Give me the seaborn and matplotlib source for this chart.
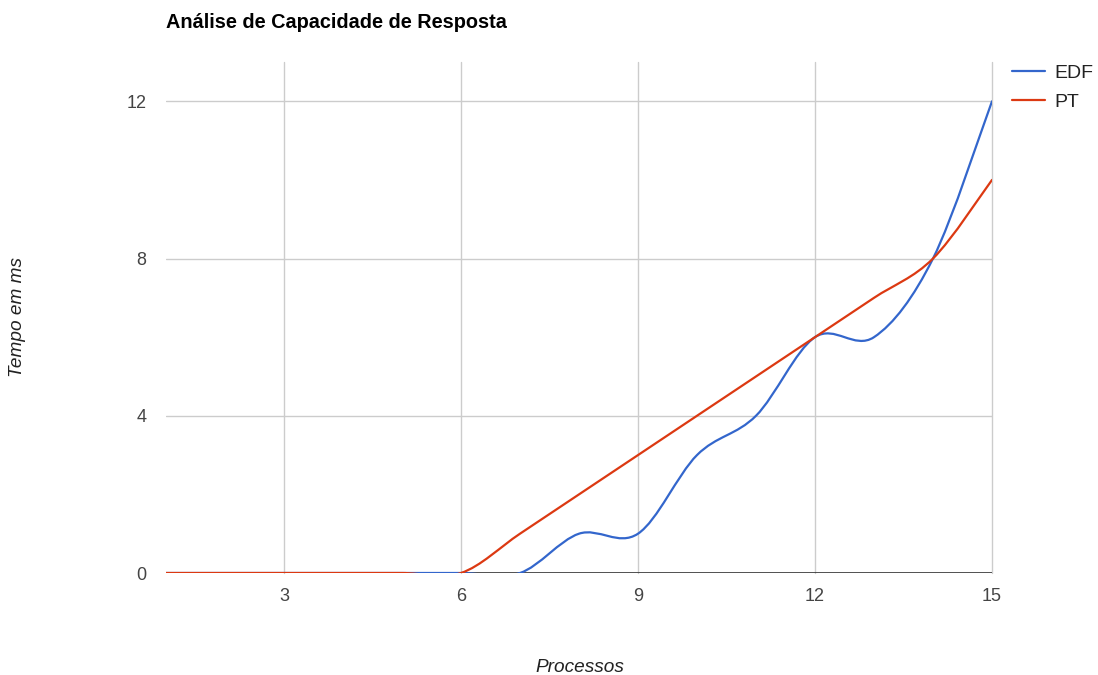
import matplotlib
matplotlib.use('Agg')
import matplotlib.pyplot as plt
import seaborn as sns
import numpy as np
from matplotlib.path import Path
from matplotlib.patches import PathPatch
from matplotlib.lines import Line2D

# data
processos = [1, 2, 3, 4, 5, 6, 7, 8, 9, 10, 11, 12, 13, 14, 15]
edf = [0, 0, 0, 0, 0, 0, 0, 1, 1, 3, 4, 6, 6, 8, 12]
pt = [0, 0, 0, 0, 0, 0, 1, 2, 3, 4, 5, 6, 7, 8, 10]
x_ticks = [3, 6, 9, 12, 15]
y_ticks = [0, 4, 8, 12]

series_names = ['EDF', 'PT']
series_colors = ['#3366cc', '#dc3912']

sns.set_theme(style='white')
plt.rcParams['font.family'] = ['Liberation Sans', 'DejaVu Sans']


def smooth_path(xs, ys):
    # Catmull-Rom style bezier through the points (like Google's curveType 'function')
    xs = np.asarray(xs, float)
    ys = np.asarray(ys, float)
    n = len(xs)
    verts = [(xs[0], ys[0])]
    codes = [Path.MOVETO]
    for i in range(n - 1):
        i0 = max(i - 1, 0)
        i3 = min(i + 2, n - 1)
        c1 = (xs[i] + (xs[i + 1] - xs[i0]) / 6, ys[i] + (ys[i + 1] - ys[i0]) / 6)
        c2 = (xs[i + 1] - (xs[i3] - xs[i]) / 6, ys[i + 1] - (ys[i3] - ys[i]) / 6)
        verts += [c1, c2, (xs[i + 1], ys[i + 1])]
        codes += [Path.CURVE4] * 3
    return Path(verts, codes)


fig = plt.figure(figsize=(10.98, 6.75), dpi=100)
ax = fig.add_axes([166 / 1098, 102 / 675, 826 / 1098, 511 / 675])

ax.set_xlim(1, 15)
ax.set_ylim(0, 13)
ax.set_xticks(x_ticks)
ax.set_yticks(y_ticks)
ax.grid(False)
for xt in x_ticks:
    ax.axvline(xt, color='#cccccc', linewidth=1, zorder=0.5, clip_on=False)
for yt in y_ticks[1:]:
    ax.axhline(yt, color='#cccccc', linewidth=1, zorder=0.5)
ax.axhline(0, color='#333333', linewidth=1.2, zorder=1)
for s in ax.spines.values():
    s.set_visible(False)
ax.tick_params(length=0, labelsize=13, labelcolor='#444444')
ax.tick_params(axis='y', pad=14)
ax.tick_params(axis='x', pad=11)
ax.set_facecolor('white')

for ys, col in zip([edf, pt], series_colors):
    patch = PathPatch(smooth_path(processos, ys), facecolor='none', edgecolor=col,
                      linewidth=1.6, zorder=3, capstyle='round')
    ax.add_patch(patch)
    patch.set_clip_path(ax.patch)

handles = [Line2D([0], [0], color=c, linewidth=1.6) for c in series_colors]
fig.legend(handles, series_names, loc='upper left',
           bbox_to_anchor=(1012 / 1098, 1 - 64 / 675), frameon=False,
           borderpad=0, borderaxespad=0, handlelength=1.7, handletextpad=0.5,
           labelspacing=0.6, fontsize=14, labelcolor='#222222')

fig.text(166 / 1098, 1 - 22 / 675, 'Análise de Capacidade de Resposta',
         fontsize=14.3, fontweight='bold', ha='left', va='center', color='black')
fig.text(18 / 1098, 1 - 317 / 675, 'Tempo em ms', rotation=90, style='italic',
         fontsize=13.7, ha='center', va='center', color='#222222')
fig.text(580 / 1098, 1 - 667 / 675, 'Processos', style='italic',
         fontsize=13.7, ha='center', va='center', color='#222222')

fig.savefig('out.png', dpi=100, facecolor='white')
